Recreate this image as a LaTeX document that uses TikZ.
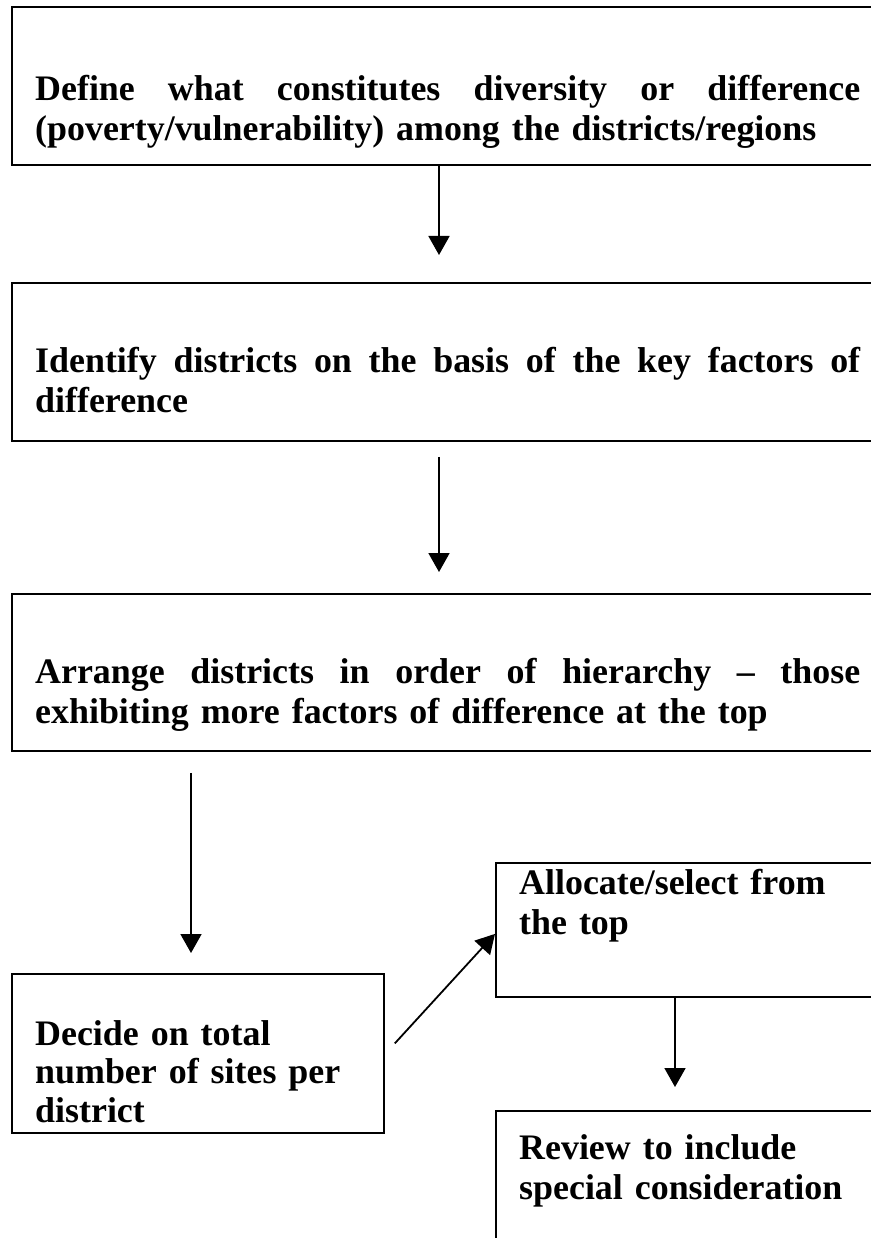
\documentclass[tikz,border=0pt]{standalone}
\usepackage{fontspec}
\setmainfont{Liberation Serif}
\usetikzlibrary{arrows.meta,calc}
\begin{document}
\begin{tikzpicture}[x=1pt,y=-1pt,
 frame/.style={draw,line width=1.8pt,rectangle,anchor=north west,inner sep=0pt},
 txt/.style={anchor=base west,inner sep=0pt,font=\bfseries\fontsize{35.9}{40}\selectfont,align=left},
 arr/.style={line width=1.8pt,-{Triangle[width=21pt,length=19pt]}}]
\useasboundingbox (0,0) rectangle (870,1238);
% frames
\node[frame,minimum width=869pt,minimum height=158pt] (b1) at (11,6) {};
\node[frame,minimum width=869pt,minimum height=158pt] (b2) at (11,282) {};
\node[frame,minimum width=869pt,minimum height=157pt] (b3) at (11,593) {};
\node[frame,minimum width=372pt,minimum height=159pt] (b4) at (11,973) {};
\node[frame,minimum width=385pt,minimum height=134pt] (b5) at (495,862) {};
\node[frame,minimum width=385pt,minimum height=150pt] (b6) at (495,1110) {};
% texts
\node[txt,text width=825pt] (t1) at (35,101) {\hbox to 825pt{Define\hfill what\hfill constitutes\hfill diversity\hfill or\hfill difference}\\(poverty/vulnerability) among the districts/regions};
\node[txt,text width=825pt] (t2) at (35,372) {\hbox to 825pt{Identify\hfill districts\hfill on\hfill the\hfill basis\hfill of\hfill the\hfill key\hfill factors\hfill of}\\difference};
\node[txt,text width=825pt] (t3) at (35,683) {\hbox to 825pt{Arrange\hfill districts\hfill in\hfill order\hfill of\hfill hierarchy\hfill --\hfill those}\\exhibiting more factors of difference at the top};
\node[txt,text width=340pt,font=\bfseries\fontsize{35.9}{38.5}\selectfont] (t4) at (35,1045) {Decide on total\\number of sites per\\district};
\node[txt,text width=350pt] (t5) at (519,894) {Allocate/select from\\the top};
\node[txt,text width=350pt] (t6) at (519,1159) {Review to include\\special consideration};
% connectors
\coordinate (xa) at (439,0);
\coordinate (xb) at (191,0);
\coordinate (xc) at (675,0);
\draw[arr,shorten >=27pt] (b1.south -| xa) -- (b2.north -| xa);
\draw[arr,shorten <=15pt,shorten >=21pt] (b2.south -| xa) -- (b3.north -| xa);
\draw[arr,shorten <=21pt,shorten >=20pt] (b3.south -| xb) -- (b4.north -| xb);
\draw[arr] ([xshift=10pt,yshift=10pt]b4.east) -- ([yshift=-4pt]b5.west);
\draw[arr,shorten >=23pt] (b5.south -| xc) -- (b6.north -| xc);
\end{tikzpicture}
\end{document}
